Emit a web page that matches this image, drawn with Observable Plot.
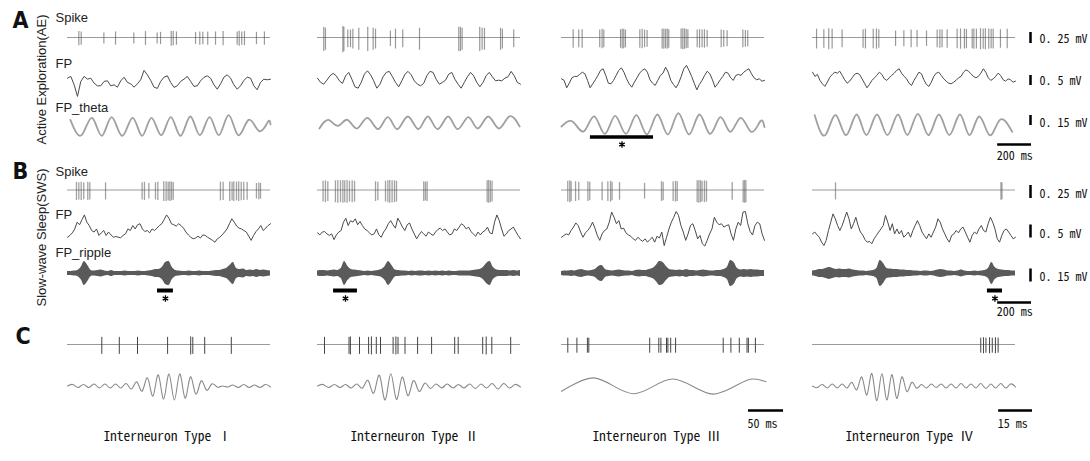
<!DOCTYPE html>
<html><head><meta charset="utf-8">
<script src="https://cdn.jsdelivr.net/npm/d3@7"></script>
<script src="https://cdn.jsdelivr.net/npm/@observablehq/plot@0.6"></script>
<style>
html,body{margin:0;padding:0;background:#fff;}
#chart{width:1090px;height:461px;overflow:hidden;}
</style></head><body><div id="chart"></div>
<script>
// ================= DATA =================
const panelLetters = ["A", "B", "C"];
const stateLabels = ["Active Exploration(AE)", "Slow-wave Sleep(SWS)"];
const aeTrackLabels = ["Spike", "FP", "FP_theta"];
const swsTrackLabels = ["Spike", "FP", "FP_ripple"];
const cellTypes = ["Interneuron Type Ⅰ", "Interneuron Type Ⅱ", "Interneuron Type Ⅲ", "Interneuron Type Ⅳ"];
const ampBarValues = [0.25, 0.5, 0.15];               // mV
const ampBarLabels = ["0. 25 mV", "0. 5 mV", "0. 15 mV"];
const timeBarValues = [200, 50, 15];                   // ms
const timeBarLabels = ["200 ms", "50 ms", "15 ms"];

// Panel A (active exploration): spike times (ms) and peak-to-peak amplitudes (mV), one list per cell type
const aeSpikeTimes = [
  [67,81,215,284,392,461,530,550,613,625,644,757,782,800,829,875,920,1003,1015,1030,1046,1117,1164],
  [37,47,150,156,179,195,209,244,297,329,343,431,461,504,603,835,845,855,959,973,987,1082,1093,1160],
  [69,102,122,226,240,250,349,359,368,378,463,477,491,506,595,605,615,625,634,707,717,727,737,747,802,816,831,845,861,944,959,979,1072,1087,1101],
  [24,67,96,116,175,299,313,359,378,392,491,540,583,618,674,737,753,766,796,855,875,898,910,944,954,969,993,1009,1022,1042,1056,1068,1111,1151]
];
const aeSpikeAmps = [
  [0.32,0.3,0.25,0.3,0.25,0.32,0.25,0.28,0.34,0.32,0.3,0.27,0.3,0.28,0.3,0.3,0.32,0.3,0.34,0.3,0.32,0.28,0.3],
  [0.55,0.5,0.6,0.55,0.4,0.4,0.45,0.5,0.55,0.5,0.45,0.35,0.45,0.4,0.5,0.55,0.55,0.5,0.55,0.5,0.5,0.5,0.45,0.4],
  [0.42,0.4,0.42,0.4,0.44,0.4,0.42,0.45,0.44,0.4,0.42,0.44,0.4,0.38,0.45,0.46,0.44,0.46,0.42,0.46,0.48,0.46,0.44,0.42,0.4,0.42,0.4,0.42,0.38,0.4,0.38,0.36,0.4,0.38,0.36],
  [0.45,0.42,0.48,0.45,0.4,0.42,0.45,0.44,0.46,0.42,0.35,0.36,0.4,0.38,0.35,0.4,0.42,0.4,0.42,0.44,0.46,0.45,0.44,0.44,0.46,0.45,0.48,0.46,0.48,0.46,0.44,0.45,0.42,0.44]
];
// Panel A field potential (mV), equally spaced samples over 1200 ms
const aeFP = [
  [0.08,0.17,-0.25,-0.83,-0.08,0.17,0.03,0.08,-0.17,-0.3,-0.3,-0.08,-0.05,-0.3,-0.25,-0.37,-0.05,0.13,-0.13,-0.2,-0.37,-0.2,0,0.47,0.25,-0.03,-0.37,-0.43,-0.08,0.13,0.2,-0.13,-0.38,-0.3,-0.08,0.03,0.17,-0.08,-0.33,-0.3,-0.05,0.12,0.2,0.08,-0.25,-0.47,-0.2,0.13,0.25,0.08,-0.25,-0.47,-0.3,-0.03,0.13,0.08,-0.3,-0.5,-0.13,0.03,0,0.03],
  [0.08,-0.13,-0.22,-0.02,0.2,0.32,0.2,-0.05,-0.18,0.2,0.37,0.03,-0.35,-0.42,-0.13,0.28,0.45,0.25,-0.05,-0.42,-0.22,0.15,0.37,0.42,0.15,-0.13,-0.35,-0.05,0.28,0.42,0.25,-0.05,-0.22,-0.3,-0.18,0.2,0.42,0.37,0.03,-0.22,-0.13,-0.02,0.28,0.37,0.03,-0.22,-0.42,-0.13,0.15,0.37,0.2,-0.13,-0.35,-0.13,0.2,0.37,0.15,-0.05,-0.02,-0.05,0.08,0.15,0.42,0.2,-0.13,-0.22],
  [0.05,-0.03,-0.4,-0.17,0.1,0.17,0.17,0.27,0.38,0.3,-0.03,-0.4,-0.2,0,0.22,0.47,0.55,0.22,-0.17,-0.2,-0.03,0.22,0.47,0.6,0.38,0.05,-0.2,-0.37,-0.12,0.1,0.33,0.47,0.55,0.38,0,-0.17,-0.28,-0.03,0.22,0.33,0.63,0.38,-0.03,-0.23,-0.4,-0.17,0.17,0.55,0.72,0.47,0.17,-0.17,-0.5,-0.23,-0.03,0.22,0.43,0.3,0,-0.37,-0.2,0,0.17,0.38,0.33,0.1,-0.03,0.22,0.27,0.22,0.38,0.47,0.55,0.3,0.1,0,0.05,-0.07,-0.03],
  [0.38,0.17,0.27,-0.03,-0.2,-0.33,-0.12,0.13,0.27,0.38,0.33,0.43,0.22,0,-0.17,-0.07,0.1,0.27,0.33,0.27,0.05,-0.17,-0.4,-0.23,-0.03,0.1,0.22,0.38,0.27,0.05,-0.03,0.1,0.22,0.33,0.47,0.55,0.33,0.17,0.05,-0.17,-0.28,-0.03,0.17,0.38,0.3,0,-0.23,-0.33,-0.12,0.17,0.33,0.38,0.22,0.05,-0.07,-0.17,-0.2,-0.12,-0.03,0.1,0.17,0.38,0.5,0.43,0.3,0.17,0.1,0.17,0.33,0.55,0.38,0.1,-0.03,0.05,0.17,0.33,0.22,0,-0.07,0.05,0,-0.12,-0.07]
];
// Panel A theta-filtered FP: [time ms, extremum mV]
const aeTheta = [
  [[17,0.10],[83,-0.13],[145,0.13],[203,-0.14],[261,0.14],[323,-0.14],[385,0.13],[441,-0.14],[496,0.13],[554,-0.13],[611,0.14],[668,-0.14],[726,0.15],[782,-0.13],[840,0.14],[895,-0.13],[952,0.17],[1009,-0.13],[1071,0.10],[1133,-0.07],[1185,0.07],[1200,0.03]],
  [[11,-0.03],[65,0.10],[121,0.01],[177,0.10],[234,-0.03],[296,0.13],[358,-0.04],[416,0.14],[472,-0.04],[534,0.15],[596,-0.04],[652,0.15],[710,-0.04],[772,0.15],[829,-0.04],[891,0.14],[947,-0.03],[1009,0.15],[1071,-0.03],[1133,0.15],[1195,0]],
  [[0,0],[67,0.07],[133,-0.07],[195,0.15],[257,-0.11],[318,0.16],[381,-0.11],[443,0.17],[505,-0.12],[567,0.18],[629,-0.12],[691,0.2],[753,-0.12],[815,0.18],[877,-0.11],[939,0.14],[997,-0.08],[1059,0.13],[1121,-0.08],[1176,0.08],[1200,-0.01]],
  [[13,0.17],[75,-0.13],[137,0.17],[199,-0.13],[261,0.18],[319,-0.13],[381,0.18],[443,-0.13],[505,0.18],[561,-0.13],[623,0.19],[685,-0.13],[747,0.18],[809,-0.13],[871,0.18],[927,-0.13],[985,0.15],[1047,-0.13],[1108,0.10],[1181,-0.08]]
];
// Panel B (slow-wave sleep)
const swsSpikeTimes = [
  [53,67,81,96,120,132,225,441,455,481,520,534,569,583,595,605,615,625,904,920,959,973,983,999,1012,1027,1042,1062,1117,1131,1141],
  [33,47,61,106,120,136,150,161,175,189,205,219,343,357,402,416,427,441,455,467,628,638,648,1003,1012,1022,1032],
  [37,49,57,83,102,156,167,240,274,290,299,343,491,591,601,660,674,684,802,812,822,831,845,857,1009,1074,1082,1090],
  [136,1114,1120]
];
const swsSpikeAmps = [
  [0.35,0.33,0.35,0.32,0.35,0.33,0.33,0.33,0.35,0.3,0.33,0.35,0.38,0.38,0.36,0.38,0.36,0.34,0.36,0.35,0.38,0.36,0.38,0.36,0.38,0.36,0.35,0.34,0.3,0.32,0.3],
  [0.4,0.42,0.38,0.42,0.44,0.42,0.44,0.42,0.44,0.4,0.42,0.4,0.38,0.36,0.4,0.42,0.44,0.42,0.42,0.4,0.38,0.36,0.38,0.42,0.44,0.42,0.4],
  [0.4,0.42,0.38,0.38,0.36,0.38,0.36,0.36,0.38,0.4,0.36,0.34,0.3,0.38,0.36,0.38,0.4,0.38,0.42,0.44,0.42,0.4,0.42,0.4,0.34,0.42,0.44,0.42],
  [0.33,0.34,0.32]
];
const swsFP = [
  [-0.26,-0.19,-0.09,0.06,0.32,0.22,0.42,0.6,0.32,0.19,0,-0.06,0.06,-0.19,-0.09,0,-0.19,-0.06,-0.17,-0.26,-0.23,-0.26,-0.28,-0.19,-0.13,0.06,0,0.19,0.06,0.22,0.26,0.06,-0.04,0,-0.09,0.06,0,0.09,0.19,0.26,0.42,0.6,0.47,0.26,0.22,0.17,0.26,0.19,0.09,-0.06,-0.17,-0.26,-0.32,-0.29,-0.22,-0.29,-0.17,-0.19,-0.26,-0.32,-0.38,-0.45,-0.32,-0.26,-0.17,-0.06,0.06,0.26,0.45,0.32,0.17,0.09,0.06,0,-0.06,-0.22,-0.38,-0.19,-0.04,0.06,0.19,0,0.09,0.19,0.26],
  [-0.09,-0.17,-0.06,-0.04,-0.13,-0.19,-0.13,-0.35,-0.17,-0.06,0,0.32,0.47,0.19,0.38,0.32,0.45,0.22,0.35,0.19,0.06,0,-0.09,-0.17,-0.13,0.06,-0.17,-0.26,-0.06,0.06,0.26,0.38,0.22,0.09,0.47,0.32,0.13,0,0.22,0.29,0.06,-0.13,-0.32,-0.17,-0.04,-0.13,-0.22,-0.06,-0.13,-0.19,-0.06,0.04,0.09,0,0.06,-0.06,-0.17,-0.13,0.06,0,0.13,0.26,0.19,0.06,0.13,-0.04,-0.13,-0.22,-0.06,-0.17,-0.06,0,0.13,-0.09,-0.13,0.32,0.6,0.38,0.06,-0.22,-0.13,0,0.06,0.13,-0.04,-0.19,-0.32],
  [-0.26,-0.19,-0.13,-0.17,0,0.13,0.29,0.19,-0.06,-0.26,-0.09,0,0.13,0.32,0.09,-0.19,-0.38,-0.13,0,0.06,0.32,0.71,0.51,0.26,0.38,0.06,0.09,-0.09,-0.17,-0.22,-0.32,-0.38,-0.26,-0.35,-0.42,-0.32,-0.45,-0.35,-0.26,-0.45,-0.22,-0.29,-0.06,-0.58,-0.26,0.06,0.32,0.51,0.73,0.58,0.19,-0.06,-0.38,-0.13,0.19,0.26,0,-0.32,-0.19,-0.51,-0.6,-0.38,-0.13,0.06,0.51,0.32,0.22,0.26,0.13,0.19,0.22,-0.13,-0.38,0.06,0.32,0.19,0.71,0.73,0.26,-0.04,-0.17,0.19,0.32,0.26,-0.13,-0.38],
  [-0.13,-0.06,-0.17,-0.26,-0.45,-0.58,-0.38,0,0.32,0.64,0.45,0.19,0,0.19,0.45,0.71,0.45,0.06,0.26,0.51,0.19,-0.06,-0.17,-0.35,-0.45,-0.42,-0.51,-0.32,-0.19,-0.06,0.06,0.19,0.58,0.32,0,0.26,-0.13,0.06,-0.13,0,-0.26,-0.17,-0.06,-0.26,0,0.19,0.38,0.19,-0.06,-0.19,-0.32,-0.13,-0.26,-0.06,0.13,0.45,0.32,0.06,-0.13,-0.32,-0.45,-0.19,-0.13,0,-0.09,0.06,0.13,-0.06,-0.26,-0.45,-0.19,-0.06,-0.13,0.06,0.19,0,-0.06,0.26,0.51,0.32,0.06,-0.32,-0.45,-0.19,0,0.06,-0.06,-0.19,-0.32,-0.26]
];
// Panel B ripple band: envelope half-amplitude (µV), equally spaced over 1200 ms
const swsRipple = [
  [23,23,29,35,69,138,92,35,29,35,40,29,23,35,23,23,23,29,23,23,23,29,23,23,29,35,46,46,69,127,138,69,35,29,23,23,29,23,23,29,23,23,23,29,35,35,46,58,92,127,58,46,52,35,40,35,46,35,40,35,29],
  [29,35,35,29,35,40,35,58,138,81,46,40,35,29,23,29,23,29,35,46,81,138,92,40,35,29,29,23,29,23,29,29,23,29,23,29,23,29,23,29,23,23,29,29,29,29,35,40,46,69,115,138,69,40,35,35,35,29,35,29,35],
  [23,29,29,35,29,40,46,35,29,35,46,81,92,46,35,29,35,40,35,29,29,23,35,40,35,35,46,58,92,138,127,81,46,40,35,40,35,46,35,35,29,35,40,35,29,29,35,35,46,69,150,127,58,40,46,40,46,40,40,35,35],
  [29,35,46,46,58,69,58,46,52,46,46,52,40,35,29,29,23,29,35,58,150,115,58,52,46,46,40,40,35,35,29,29,23,29,29,23,29,40,46,40,29,29,23,29,40,29,23,23,29,23,29,35,58,127,69,46,40,35,35,29,29]
];
// Starred windows: [cell type index, start ms, end ms]
const aeStarWindows = [[2, 171, 544]];
const swsStarWindows = [[0, 532, 626], [1, 95, 236], [3, 1034, 1123]];
// Panel C: spike times (ms) and an amplitude per spike (mV)
const cSpikeTimes = [
  [49,74,100,143,176,179,196,234],
  [10,45,47,60,73,77,84,90,108,112,115,125,143,163,196,201,236,241,249,276],
  [9,22,37,39,126,139,142,150,152,156,163,231,242,254,265,267,277],
  [74.6,75.8,76.9,78.5,79.7,81.1,82.3]
];
const cSpikeAmps = [
  [0.34,0.34,0.34,0.34,0.36,0.34,0.34,0.34],
  [0.34,0.34,0.36,0.34,0.34,0.36,0.34,0.34,0.34,0.36,0.34,0.34,0.34,0.34,0.34,0.34,0.34,0.36,0.34,0.34],
  [0.3,0.3,0.3,0.3,0.3,0.3,0.3,0.3,0.3,0.3,0.3,0.3,0.3,0.3,0.3,0.3,0.3],
  [0.3,0.32,0.3,0.32,0.3,0.32,0.3]
];
// Panel C filtered FP: successive extrema (µV), equally spaced; type III as [ms, µV]
const cWaveI   = [0,15,-15,15,-15,20,-20,20,-20,20,-20,25,-30,40,-50,80,-100,110,-130,120,-140,120,-120,90,-80,50,-40,20,-10,0,-10,10,-15,15,-15,10,-15,15,-10];
const cWaveII  = [0,15,-15,15,-15,15,-20,20,-20,53,-70,106,-140,123,-134,88,-95,53,-53,28,-25,20,-20,20,-20,15,-20,20,-25,20,-20,25,-30,25,-20,15,-10];
const cWaveIII = [[0,-53],[45,81],[103,-77],[159,70],[217,-81],[272,70],[292,42]];
const cWaveIV  = [0,-15,15,-20,20,-20,20,-20,35,-35,88,-88,123,-148,123,-140,113,-123,88,-53,35,-20,15,-20,20,-15,20,-20,20,-20,25,-20,20,-20,25,-25,20,-20,25,-20,20,-10];

// ================= LAYOUT =================
const L = {
  colX: [67, 317, 561, 812], colW: 203,
  abSpan: 1200, cSpan: [290, 290, 290, 90],
  aeSpike: {y: 37, g: 44}, aeFP: {y: 79.3, g: 20}, aeTheta: {y: 126, g: 66.7},
  swsSpike: {y: 189.5, g: 52}, swsFP: {y: 230, g: 26}, swsRip: {y: 273, g: 0.0867},
  cSpike: {y: 344, g: 50}, cWave: {y: 385.5, g: 0.1},
  barX: 1030, labelX: 1039,
  aeBarY: [37.5, 80, 120], swsBarY: [191.5, 231, 275],
  aeBarLabelY: [42.5, 84.5, 126], swsBarLabelY: [197, 237, 280],
  timeBars: [{right: 1031, y: 144, ly: 159.5}, {right: 1031, y: 302, ly: 315}, {right: 783, y: 410, ly: 427}, {right: 1032, y: 410, ly: 427}],
  letterPos: [[12, 27], [12, 178], [15, 343]],
  statePos: [[41, 79], [41, 237]],
  aeTrackLabelY: [21, 67.5, 111], swsTrackLabelY: [175, 218, 256],
  trackLabelX: 55,
  cellLabelX: [167, 414, 656, 909], cellLabelY: 440,
  aeStarY: 136.5, swsStarY: 290, aeAstY: 144, swsAstY: 298
};
const fontSans = "'Liberation Sans', Arial, Helvetica, sans-serif";
const fontMono = "'Noto Sans Mono CJK JP', 'Noto Sans CJK JP', 'DejaVu Sans Mono', monospace";
const fontLetter = "'Liberation Sans Narrow', 'DejaVu Sans Condensed', 'Liberation Sans', sans-serif";

const X = (c, t, span) => L.colX[c] + (t / span) * L.colW;
const abSpanOf = () => L.abSpan, cSpanOf = c => L.cSpan[c];

function spikes(times, amps, row, spanOf) {
  const out = [];
  times.forEach((ts, c) => ts.forEach((t, i) => {
    const a = amps[c][i] * row.g;
    out.push({x: X(c, t, spanOf(c)), y1: row.y - 0.42 * a, y2: row.y + 0.58 * a});
  }));
  return out;
}
const baseline = (row) => L.colX.map(x => ({x1: x, x2: x + L.colW, y: row.y}));
function uniformSeries(arrs, row, spanOf, id, cols) {
  const out = [];
  arrs.forEach((vals, k) => {
    const c = cols ? cols[k] : k;
    const n = vals.length, span = spanOf(c);
    vals.forEach((v, i) => out.push({id: id + c, x: X(c, i * span / (n - 1), span), y: row.y - v * row.g}));
  });
  return out;
}
function pairSeries(arrs, row, spanOf, id, cols) {
  const out = [];
  arrs.forEach((pairs, k) => {
    const c = cols ? cols[k] : k;
    pairs.forEach(([t, v]) => out.push({id: id + c, x: X(c, t, spanOf(c)), y: row.y - v * row.g}));
  });
  return out;
}
function envelope(arrs, row, span, id) {
  const out = [];
  arrs.forEach((vals, c) => {
    const n = vals.length;
    vals.forEach((v, i) => out.push({id: id + c, x: X(c, i * span / (n - 1), span), y1: row.y - v * row.g, y2: row.y + v * row.g}));
  });
  return out;
}

const aeSpk = spikes(aeSpikeTimes, aeSpikeAmps, L.aeSpike, abSpanOf);
const swsSpk = spikes(swsSpikeTimes, swsSpikeAmps, L.swsSpike, abSpanOf);
const cSpk = spikes(cSpikeTimes, cSpikeAmps, L.cSpike, cSpanOf);
const bases = [...baseline(L.aeSpike), ...baseline(L.swsSpike), ...baseline(L.cSpike)];
const fpPts = [...uniformSeries(aeFP, L.aeFP, abSpanOf, "ae"), ...uniformSeries(swsFP, L.swsFP, abSpanOf, "sws")];
const thetaPts = pairSeries(aeTheta, L.aeTheta, abSpanOf, "th");
const ripPts = envelope(swsRipple, L.swsRip, L.abSpan, "rp");
const cWavePts = uniformSeries([cWaveI, cWaveII, cWaveIV], L.cWave, cSpanOf, "cw", [0, 1, 3]);
const cWave3 = pairSeries([cWaveIII], L.cWave, cSpanOf, "c3", [2]);

// amplitude scale bars (ripple row gain is per µV)
const ampBars = [];
ampBarValues.forEach((v, i) => {
  const rA = [L.aeSpike, L.aeFP, L.aeTheta][i], rB = [L.swsSpike, L.swsFP, L.swsRip][i];
  const vB = i === 2 ? v * 1000 : v;
  ampBars.push({x: L.barX, y1: L.aeBarY[i] - v * rA.g / 2, y2: L.aeBarY[i] + v * rA.g / 2, label: ampBarLabels[i], ly: L.aeBarLabelY[i]});
  ampBars.push({x: L.barX, y1: L.swsBarY[i] - vB * rB.g / 2, y2: L.swsBarY[i] + vB * rB.g / 2, label: ampBarLabels[i], ly: L.swsBarLabelY[i]});
});
// time scale bars
const tb = [
  {v: timeBarValues[0], span: L.abSpan, ...L.timeBars[0], label: timeBarLabels[0]},
  {v: timeBarValues[0], span: L.abSpan, ...L.timeBars[1], label: timeBarLabels[0]},
  {v: timeBarValues[1], span: L.cSpan[2], ...L.timeBars[2], label: timeBarLabels[1]},
  {v: timeBarValues[2], span: L.cSpan[3], ...L.timeBars[3], label: timeBarLabels[2]}
].map(d => ({...d, x1: d.right - d.v / d.span * L.colW, x2: d.right}));

const stars = [
  ...aeStarWindows.map(([c, t0, t1]) => ({x1: X(c, t0, L.abSpan), x2: X(c, t1, L.abSpan), y: L.aeStarY, ay: L.aeAstY, w: 3.5})),
  ...swsStarWindows.map(([c, t0, t1]) => ({x1: X(c, t0, L.abSpan), x2: X(c, t1, L.abSpan), y: L.swsStarY, ay: L.swsAstY, w: 4}))
];

const texts = {
  letters: panelLetters.map((t, i) => ({t, x: L.letterPos[i][0], y: L.letterPos[i][1]})),
  states: stateLabels.map((t, i) => ({t, x: L.statePos[i][0], y: L.statePos[i][1]})),
  tracks: [...aeTrackLabels.map((t, i) => ({t, y: L.aeTrackLabelY[i]})), ...swsTrackLabels.map((t, i) => ({t, y: L.swsTrackLabelY[i]}))].map(d => ({...d, x: L.trackLabelX})),
  cells: cellTypes.map((t, i) => ({t, x: L.cellLabelX[i], y: L.cellLabelY}))
};

const chart = Plot.plot({
  width: 1090, height: 461, margin: 0,
  x: {domain: [0, 1090], range: [0, 1090], axis: null},
  y: {domain: [0, 461], range: [0, 461], axis: null},
  style: {background: "#fff", overflow: "visible"},
  marks: [
    Plot.ruleY(bases, {x1: "x1", x2: "x2", y: "y", stroke: "#9a9a9a", strokeWidth: 1}),
    Plot.ruleX(aeSpk, {x: "x", y1: "y1", y2: "y2", stroke: "#555", strokeOpacity: 0.6, strokeWidth: 1.2}),
    Plot.ruleX(swsSpk, {x: "x", y1: "y1", y2: "y2", stroke: "#555", strokeOpacity: 0.55, strokeWidth: 1.3}),
    Plot.ruleX(cSpk, {x: "x", y1: "y1", y2: "y2", stroke: "#444", strokeWidth: 1}),
    Plot.line(fpPts, {x: "x", y: "y", z: "id", stroke: "#4a4a4a", strokeWidth: 1}),
    Plot.line(thetaPts, {x: "x", y: "y", z: "id", stroke: "#a0a0a0", strokeWidth: 1.8, curve: "natural"}),
    Plot.areaY(ripPts, {x: "x", y1: "y1", y2: "y2", z: "id", fill: "#5a5a5a", curve: "catmull-rom"}),
    Plot.line(cWavePts, {x: "x", y: "y", z: "id", stroke: "#8a8a8a", strokeWidth: 1.1, curve: "natural"}),
    Plot.line(cWave3, {x: "x", y: "y", z: "id", stroke: "#8a8a8a", strokeWidth: 1.1, curve: "catmull-rom"}),
    Plot.ruleX(ampBars, {x: "x", y1: "y1", y2: "y2", stroke: "#000", strokeWidth: 2.5}),
    Plot.text(ampBars, {x: L.labelX, y: "ly", text: "label", textAnchor: "start", lineAnchor: "bottom", fontFamily: fontMono, fontSize: 12, fill: "#111"}),
    Plot.ruleY(tb, {x1: "x1", x2: "x2", y: "y", stroke: "#000", strokeWidth: 2.5}),
    Plot.text(tb, {x: d => d.x1 - 1, y: "ly", text: "label", textAnchor: "start", lineAnchor: "bottom", fontFamily: fontMono, fontSize: 12, fill: "#111"}),
    Plot.ruleY(stars, {x1: "x1", x2: "x2", y: "y", stroke: "#000", strokeWidth: d => d.w}),
    Plot.dot(stars, {x: d => (d.x1 + d.x2) / 2, y: "ay", symbol: "asterisk", r: 3, stroke: "#000", strokeWidth: 1.3}),
    Plot.text(texts.letters, {x: "x", y: "y", text: "t", textAnchor: "start", lineAnchor: "bottom", fontFamily: fontLetter, fontWeight: "bold", fontSize: 23, fill: "#111"}),
    Plot.text(texts.states, {x: "x", y: "y", text: "t", rotate: -90, textAnchor: "middle", lineAnchor: "middle", fontFamily: fontSans, fontSize: 13, fill: "#222"}),
    Plot.text(texts.tracks, {x: "x", y: "y", text: "t", textAnchor: "start", lineAnchor: "bottom", fontFamily: fontSans, fontSize: 13, fill: "#222"}),
    Plot.text(texts.cells, {x: "x", y: "y", text: "t", textAnchor: "middle", lineAnchor: "bottom", fontFamily: fontMono, fontSize: 13.5, fill: "#111"})
  ]
});
document.getElementById("chart").appendChild(chart);
</script>
</body></html>
